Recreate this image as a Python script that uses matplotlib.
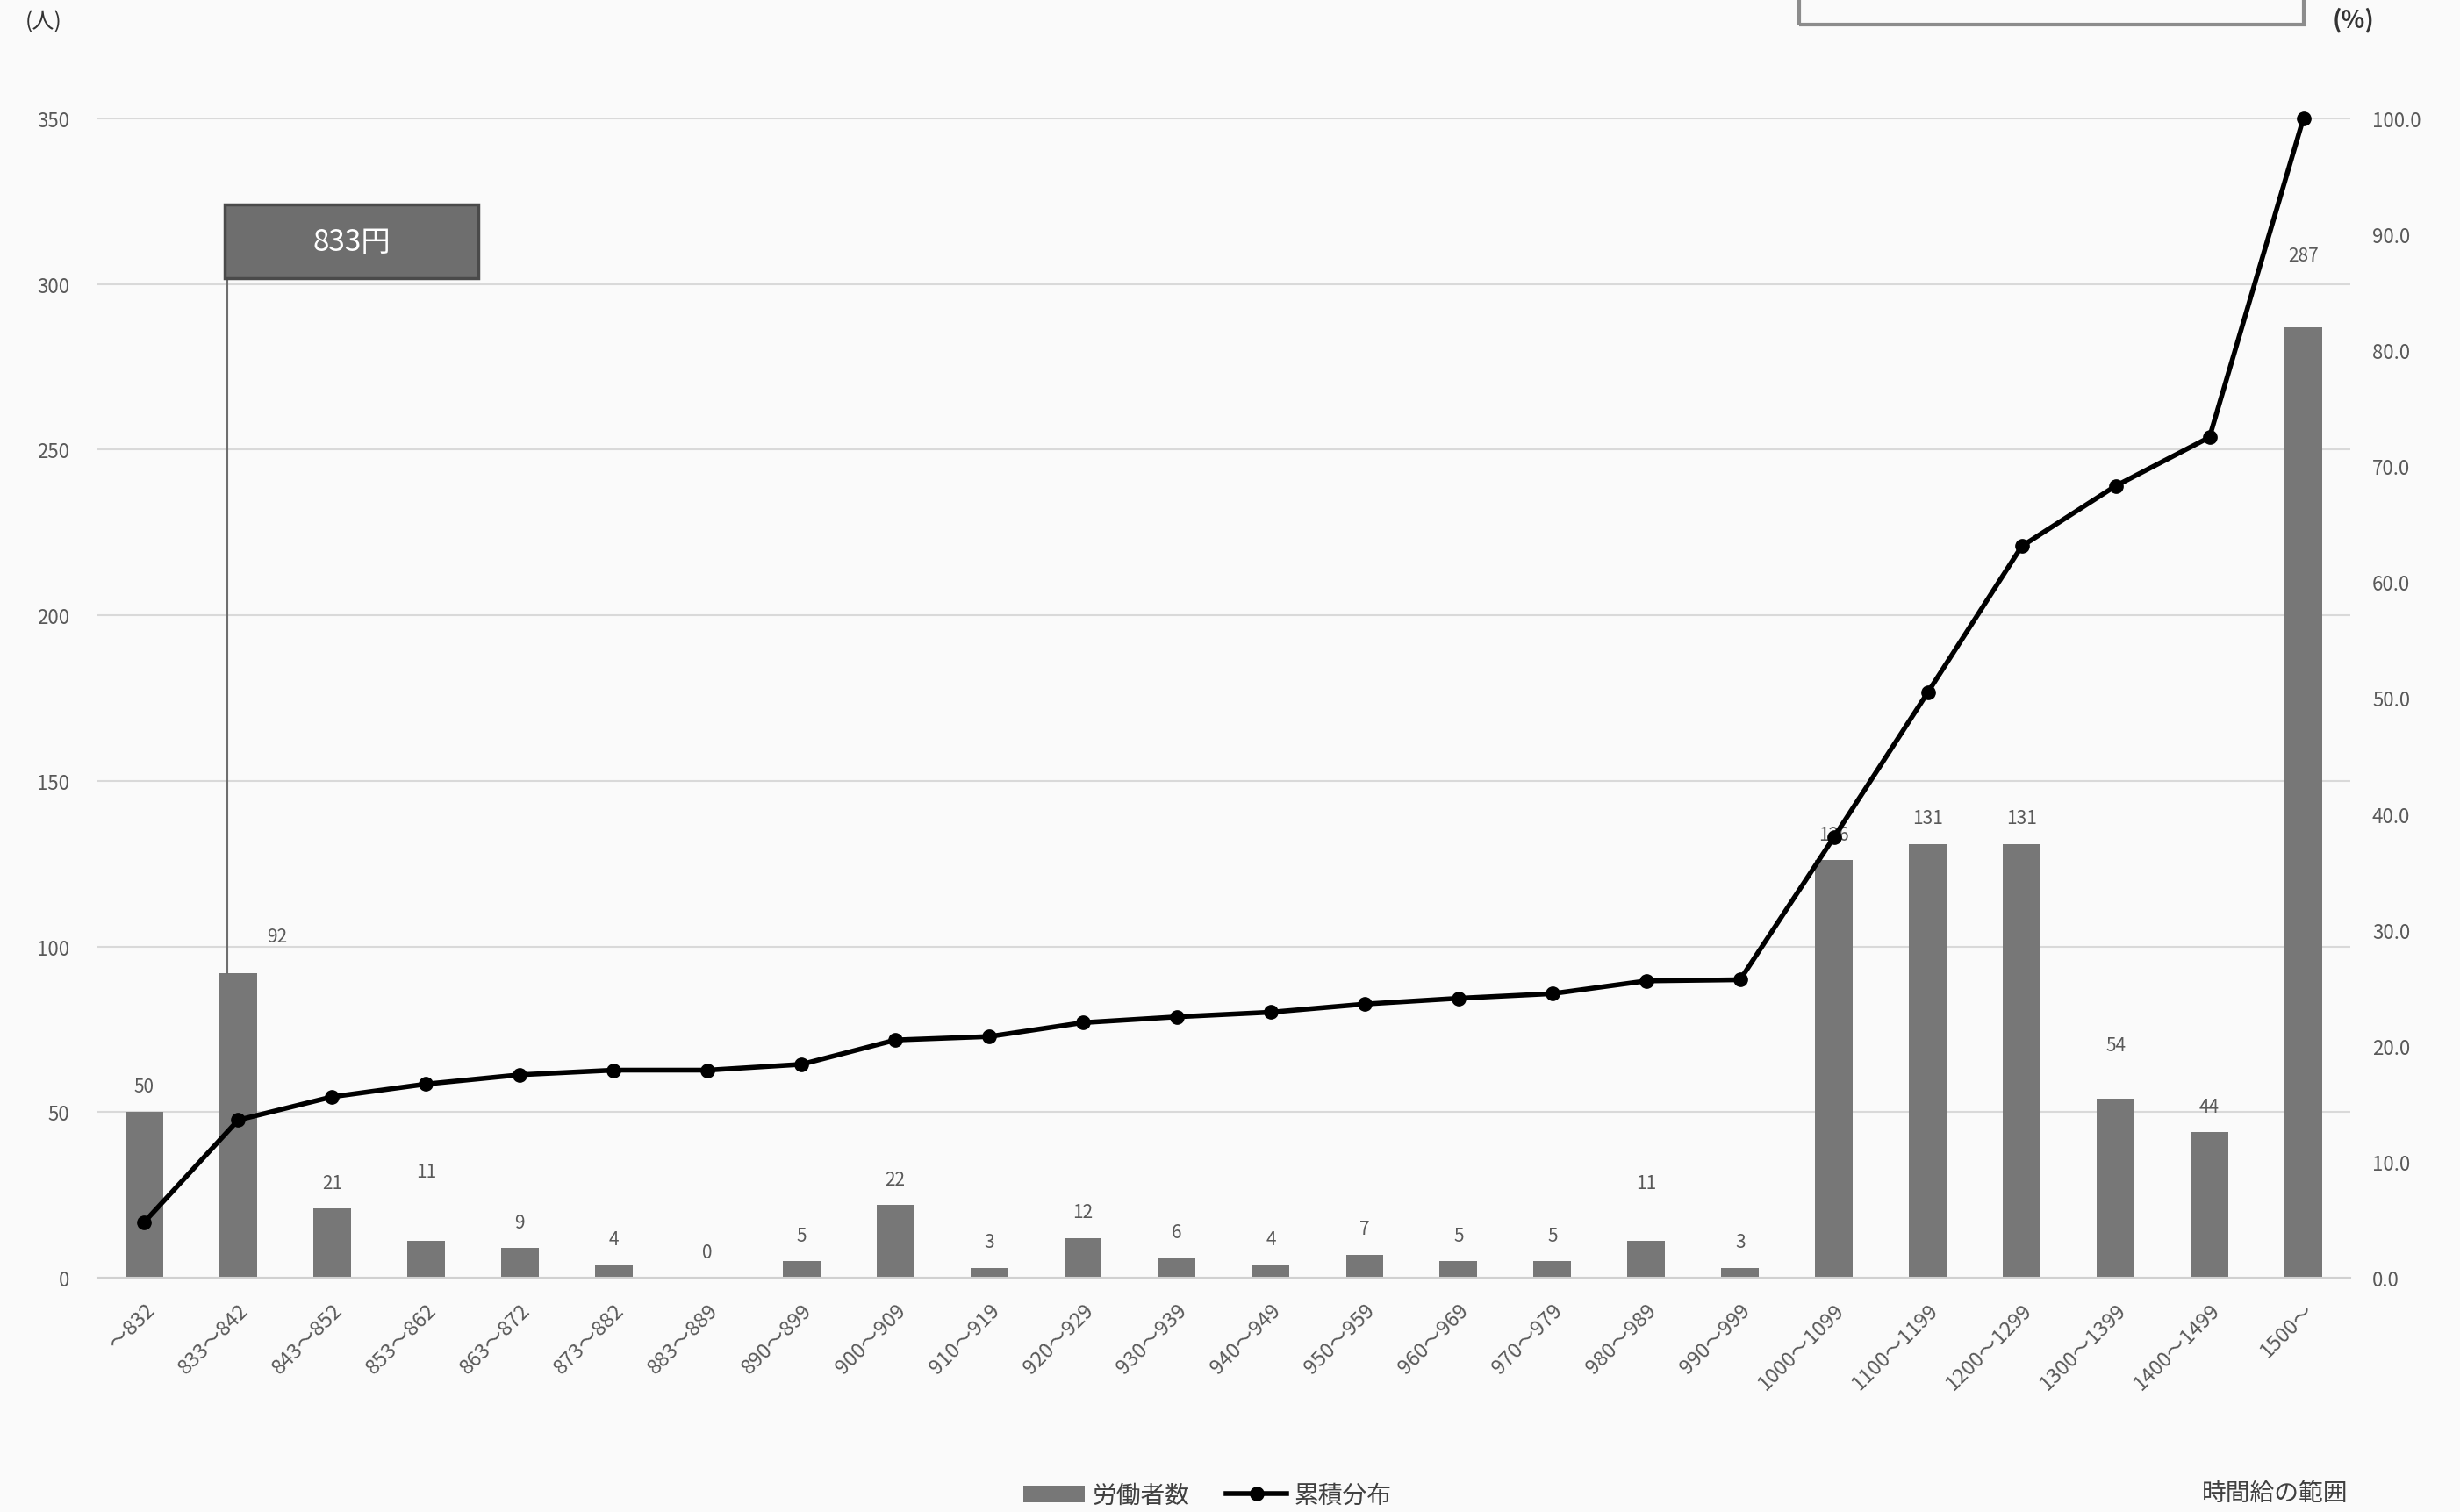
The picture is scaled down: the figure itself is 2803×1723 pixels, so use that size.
import matplotlib
matplotlib.use("Agg")
from matplotlib import pyplot as plt
from matplotlib.patches import Rectangle
import numpy as np

plt.rcParams['font.family'] = ['Noto Sans CJK JP', 'DejaVu Sans']

# --- data ---
wage_ranges = ['～832', '833～842', '843～852', '853～862', '863～872', '873～882',
               '883～889', '890～899', '900～909', '910～919', '920～929', '930～939',
               '940～949', '950～959', '960～969', '970～979', '980～989', '990～999',
               '1000～1099', '1100～1199', '1200～1299', '1300～1399', '1400～1499', '1500～']
workers = [50, 92, 21, 11, 9, 4, 0, 5, 22, 3, 12, 6, 4, 7, 5, 5, 11, 3,
           126, 131, 131, 54, 44, 287]
cumulative = [4.8, 13.6, 15.6, 16.7, 17.5, 17.9, 17.9, 18.4, 20.5, 20.8, 22.0, 22.5,
              22.9, 23.6, 24.1, 24.5, 25.6, 25.7, 38.0, 50.5, 63.1, 68.3, 72.5, 100.0]
min_wage_label = '833円'

bar_color = '#777777'
text_color = '#595959'
bg = '#fafafa'

fig = plt.figure(figsize=(28.03, 17.24), dpi=100, facecolor=bg)
ax = fig.add_axes([0.0396, 0.1549, 0.9158, 0.7662], facecolor=bg)
x = np.arange(len(wage_ranges))

bars = ax.bar(x, workers, width=0.4, color=bar_color, label='労働者数', zorder=2)
ax.set_xlim(-0.5, len(wage_ranges) - 0.5)
ax.set_ylim(0, 350)
ax.set_yticks(np.arange(0, 351, 50))
ax.yaxis.grid(True, color='#d9d9d9', linewidth=1.5, zorder=0)
ax.set_axisbelow(True)
for s in ['top', 'right', 'left']:
    ax.spines[s].set_visible(False)
ax.spines['bottom'].set_color('#d0d0d0')
ax.spines['bottom'].set_linewidth(1.5)
ax.tick_params(axis='both', length=0, colors=text_color, labelsize=16)
ax.tick_params(axis='y', pad=23)
ax.set_xticks(x)
ax.set_xticklabels(wage_ranges, rotation=45, ha='right', va='top',
                   rotation_mode='anchor', fontsize=17)
ax.tick_params(axis='x', pad=18)

# bar value labels (a few lifted to clear the line)
extra = {1: (32, 30), 3: (0, 57), 16: (0, 48), 21: (0, 44), 23: (0, 59)}
for i, v in enumerate(workers):
    dx, dy = extra.get(i, (0, 21))
    ax.annotate(str(v), (x[i], v), xytext=(dx, dy), textcoords='offset points',
                ha='center', va='center', fontsize=15, color=text_color)

# cumulative line on secondary axis
ax2 = ax.twinx()
ax2.set_ylim(0, 100)
ax2.set_yticks(np.arange(0, 101, 10))
ax2.set_yticklabels([f'{t:.1f}' for t in np.arange(0, 101, 10)])
for s in ['top', 'right', 'left', 'bottom']:
    ax2.spines[s].set_visible(False)
ax2.tick_params(axis='y', length=0, colors=text_color, labelsize=16, pad=18)
line, = ax2.plot(x, cumulative, color='black', linewidth=4, marker='o',
                 markersize=11, label='累積分布', zorder=3, clip_on=False)

# minimum wage marker box
box_x0, box_x1 = 0.855, 3.56
box_y0, box_y1 = 301.7, 324
ax.add_patch(Rectangle((box_x0, box_y0), box_x1 - box_x0, box_y1 - box_y0,
                       facecolor='#6e6e6e', edgecolor='#4a4a4a', linewidth=2.5, zorder=4))
ax.text((box_x0 + box_x1) / 2, (box_y0 + box_y1) / 2, min_wage_label,
        ha='center', va='center', fontsize=24, color='white', zorder=5)
ax.plot([0.888, 0.888], [workers[1], box_y0], color='#6e6e6e', linewidth=1.5, zorder=3)

# axis unit labels
fig.text(50 / 2803, 1 - 25 / 1724, '(人)', ha='center', va='center', fontsize=18, color='#333333')
fig.text(2681 / 2803, 1 - 23 / 1724, '(%)', ha='center', va='center', fontsize=20,
         color='#333333', fontweight='bold')
fig.text(2592 / 2803, 1 - 1702 / 1724, '時間給の範囲', ha='center', va='center',
         fontsize=20, color='#404040')

# partial box at the top right (cropped in the source)
fig.patches.append(Rectangle((2050 / 2803, 1 - 29 / 1724), 575 / 2803, 0.05,
                             transform=fig.transFigure, facecolor='none',
                             edgecolor='#8c8c8c', linewidth=3))

fig.legend(handles=[bars, line], labels=['労働者数', '累積分布'], loc='center',
           bbox_to_anchor=(1376 / 2803, 1 - 1705 / 1724), ncol=2, frameon=False,
           fontsize=20, handlelength=2.5, columnspacing=1.5, handletextpad=0.3,
           labelcolor='#404040')

fig.savefig('out.png', dpi=100, facecolor=bg)
